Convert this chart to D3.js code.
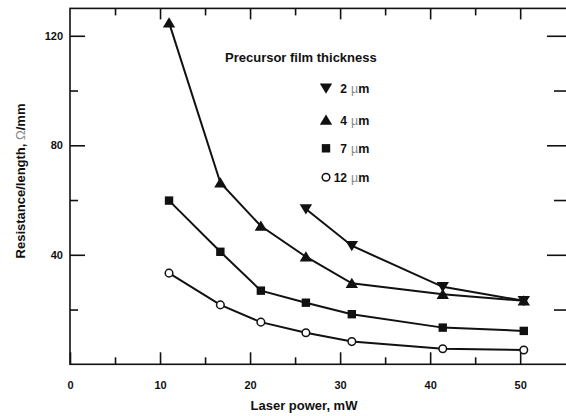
<!DOCTYPE html>
<html>
<head>
<meta charset="utf-8">
<script src="https://cdn.jsdelivr.net/npm/d3@7"></script>
<style>
  html, body { margin: 0; padding: 0; background: #fff; }
  svg { display: block; font-family: "Liberation Sans", Arial, sans-serif; }
  .axis path, .axis line { stroke: #111; stroke-width: 1.6; }
  .axis text { font-size: 11px; font-weight: bold; fill: #111; }
</style>
</head>
<body>
<div id="chart"></div>
<script>
// data
const thickness = ["2", "4", "7", "12"];
const power = [11, 16.7, 21.2, 26.2, 31.3, 41.4, 50.4];
const power2 = [26.2, 31.3, 41.4, 50.4];
const res2 = [56.7, 43.3, 28.3, 23.2];
const res4 = [124.8, 66.3, 50.5, 39.3, 29.6, 25.6, 23.2];
const res7 = [59.8, 41.1, 26.9, 22.5, 18.3, 13.4, 12.2];
const res12 = [33.3, 21.7, 15.4, 11.5, 8.3, 5.7, 5.2];
const xTicks = [0, 10, 20, 30, 40, 50];
const xMinor = [5, 15, 25, 35, 45];
const yTicks = [40, 80, 120];
const yMinor = [20, 60, 100];

const width = 566, height = 416;
const plotLeft = 70, plotRight = 567, plotTop = 8.4, plotBottom = 364.3;

const svg = d3.select("#chart").append("svg")
    .attr("width", width)
    .attr("height", height);

const x = d3.scaleLinear().domain([0, 55.2]).range([plotLeft, plotRight]);
const y = d3.scaleLinear().domain([0, 130]).range([plotBottom, plotTop]);

// frame with inward ticks on all four sides
function addAxis(axis, tr) {
    return svg.append("g").attr("class", "axis")
        .attr("transform", tr).call(axis);
}
const noLabel = () => "";

addAxis(d3.axisBottom(x).tickValues(xTicks).tickSizeInner(-12).tickSizeOuter(0).tickPadding(17),
    `translate(0,${plotBottom})`);
addAxis(d3.axisBottom(x).tickValues(xMinor).tickSizeInner(-7).tickSizeOuter(0).tickFormat(noLabel),
    `translate(0,${plotBottom})`);
addAxis(d3.axisTop(x).tickValues(xTicks.slice(1)).tickSizeInner(-11).tickSizeOuter(0).tickFormat(noLabel),
    `translate(0,${plotTop})`);
addAxis(d3.axisTop(x).tickValues(xMinor).tickSizeInner(-7).tickSizeOuter(0).tickFormat(noLabel),
    `translate(0,${plotTop})`);
addAxis(d3.axisLeft(y).tickValues(yTicks).tickSizeInner(-15).tickSizeOuter(0).tickPadding(7),
    `translate(${plotLeft},0)`);
addAxis(d3.axisLeft(y).tickValues(yMinor).tickSizeInner(-8).tickSizeOuter(0).tickFormat(noLabel),
    `translate(${plotLeft},0)`);
addAxis(d3.axisRight(y).tickValues(yTicks).tickSizeInner(-20).tickSizeOuter(0).tickFormat(noLabel),
    `translate(${plotRight},0)`);
addAxis(d3.axisRight(y).tickValues(yMinor).tickSizeInner(-13).tickSizeOuter(0).tickFormat(noLabel),
    `translate(${plotRight},0)`);

svg.selectAll(".axis .domain").remove();
svg.append("rect")
    .attr("x", plotLeft).attr("y", plotTop)
    .attr("width", plotRight - plotLeft).attr("height", plotBottom - plotTop)
    .attr("fill", "none").attr("stroke", "#111").attr("stroke-width", 1.6);

// axis titles
svg.append("text")
    .attr("x", 304).attr("y", 410)
    .attr("text-anchor", "middle")
    .style("font-size", "13px").style("font-weight", "bold").attr("fill", "#111")
    .text("Laser power, mW");

const yt = svg.append("text")
    .attr("transform", `translate(25,181) rotate(-90)`)
    .attr("text-anchor", "middle")
    .style("font-size", "13px").style("font-weight", "bold").attr("fill", "#111");
yt.append("tspan").text("Resistance/length, ");
yt.append("tspan").style("font-weight", "normal").attr("fill", "#888").text("Ω");
yt.append("tspan").text("/mm");

// series
const series = [
    { name: thickness[0], xs: power2, ys: res2, mark: "down" },
    { name: thickness[1], xs: power, ys: res4, mark: "up" },
    { name: thickness[2], xs: power, ys: res7, mark: "square" },
    { name: thickness[3], xs: power, ys: res12, mark: "circle" }
];

const line = d3.line()
    .x(function(d) { return x(d[0]); })
    .y(function(d) { return y(d[1]); });

series.forEach(function(s) {
    s.points = s.xs.map(function(v, i) { return [v, s.ys[i]]; });
    svg.append("path")
        .attr("d", line(s.points))
        .attr("fill", "none")
        .attr("stroke", "#111")
        .attr("stroke-width", 2);
});

function drawMark(g, mark) {
    if (mark === "up") {
        g.append("path").attr("d", "M0,-5.5L6.2,4.8L-6.2,4.8Z").attr("fill", "#111");
    } else if (mark === "down") {
        g.append("path").attr("d", "M0,5.5L6.2,-4.8L-6.2,-4.8Z").attr("fill", "#111");
    } else if (mark === "square") {
        g.append("rect").attr("x", -4.2).attr("y", -4.2).attr("width", 8.4).attr("height", 8.4).attr("fill", "#111");
    } else {
        g.append("circle").attr("r", 3.8).attr("fill", "#fff").attr("stroke", "#111").attr("stroke-width", 1.5);
    }
}

series.forEach(function(s) {
    svg.append("g").selectAll("g")
        .data(s.points).enter()
        .append("g")
        .attr("transform", function(d) { return `translate(${x(d[0])},${y(d[1])})`; })
        .each(function() { drawMark(d3.select(this), s.mark); });
});

// legend
svg.append("text")
    .attr("x", 225).attr("y", 61.5)
    .style("font-size", "13px").style("font-weight", "bold").attr("fill", "#111")
    .text("Precursor film thickness");

const legendY = [88.3, 120, 148.3, 177.3];
series.forEach(function(s, i) {
    const g = svg.append("g").attr("transform", `translate(326,${legendY[i]})`);
    drawMark(g, s.mark);
    g.append("text")
        .attr("x", 21).attr("y", 4.5)
        .attr("text-anchor", "end")
        .style("font-size", "12px").style("font-weight", "bold").attr("fill", "#111")
        .text(s.name);
    const t = g.append("text")
        .attr("x", 25).attr("y", 4.5)
        .style("font-size", "12.5px").style("font-weight", "bold").attr("fill", "#111");
    t.append("tspan").style("font-weight", "normal").attr("fill", "#888").text("µ");
    t.append("tspan").text("m");
});
</script>
</body>
</html>
